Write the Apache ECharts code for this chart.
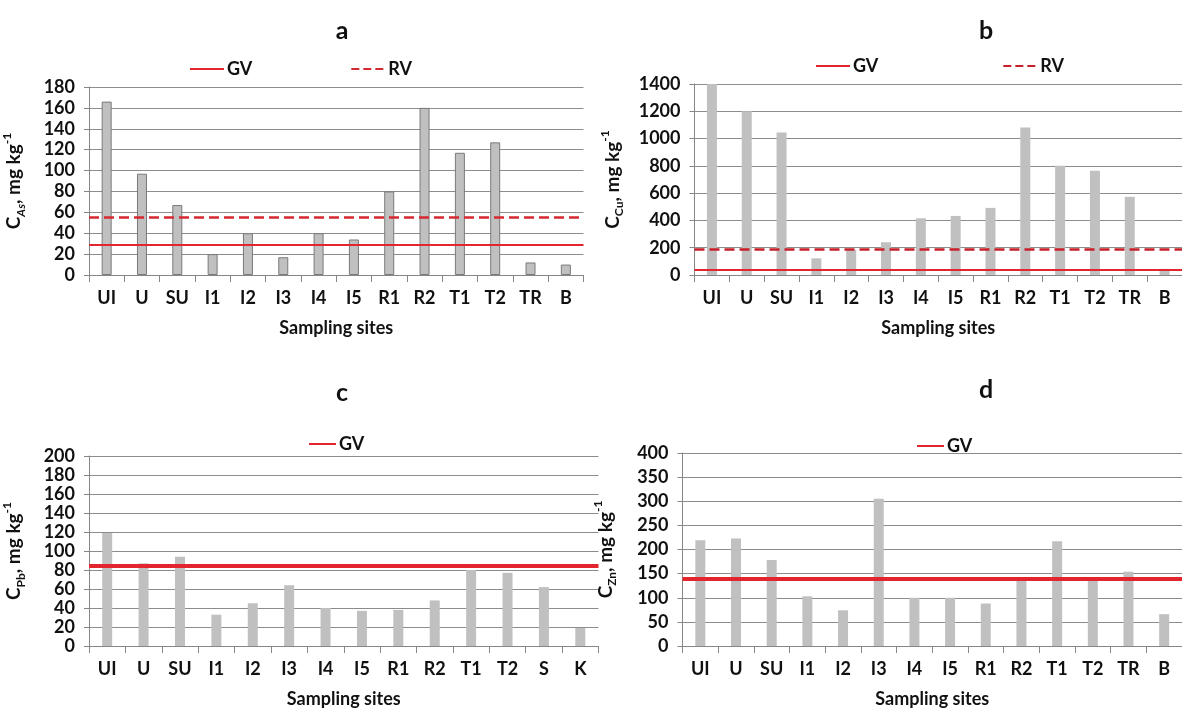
<!DOCTYPE html>
<html><head><meta charset="utf-8">
<script src="https://cdn.jsdelivr.net/npm/echarts@6/dist/echarts.min.js"></script>
<style>html,body{margin:0;padding:0;background:#fff}#c{width:1182px;height:709px}</style>
</head><body><div id="c"></div>
<script>
const sitesA = ['UI','U','SU','I1','I2','I3','I4','I5','R1','R2','T1','T2','TR','B'];
const sitesB = ['UI','U','SU','I1','I2','I3','I4','I5','R1','R2','T1','T2','TR','B'];
const sitesC = ['UI','U','SU','I1','I2','I3','I4','I5','R1','R2','T1','T2','S','K'];
const sitesD = ['UI','U','SU','I1','I2','I3','I4','I5','R1','R2','T1','T2','TR','B'];
const asValues = [166,97,67,20,40,17,40,34,80,160,117,127,12,10];
const cuValues = [1400,1200,1045,122,184,240,416,433,492,1082,800,764,573,45];
const pbValues = [119,87,94,33,45,64,40,37,38,48,80,77,62,19];
const znValues = [219,223,178,103,74,305,100,100,88,140,217,140,154,66];
const gvAs = 29, rvAs = 55;
const gvCu = 37, rvCu = 190;
const gvPb = 85;
const gvZn = 140;

const FONT = 'Lato';
const RED = '#e3262e';
const gridLineColor = '#8c8c8c';

function xAxis(i, data){
  return {type:'category', gridIndex:i, data:data,
    axisLine:{lineStyle:{color:'#868686'}},
    axisTick:{show:true, length:7, lineStyle:{color:'#868686'}},
    axisLabel:{color:'#111', fontFamily:FONT, fontWeight:'bold', fontSize:18, margin:14},
    name:'Sampling sites', nameLocation:'middle', nameGap:44,
    nameTextStyle:{color:'#111', fontFamily:FONT, fontWeight:'bold', fontSize:18}};
}
function yAxis(i, max, interval, sub, gap, italic){
  return {type:'value', gridIndex:i, min:0, max:max, interval:interval,
    axisLine:{show:true, lineStyle:{color:'#868686'}},
    axisTick:{show:true, length:5, lineStyle:{color:'#868686'}},
    splitLine:{lineStyle:{color:gridLineColor, width:1}},
    axisLabel:{color:'#111', fontFamily:FONT, fontWeight:'bold', fontSize:18, margin:14,
      formatter: v => String(v)},
    name:'{c|C}{s|' + sub + '}{c|, mg kg}{p|-1}', nameLocation:'middle', nameGap:gap,
    nameTextStyle:{color:'#111', fontFamily:FONT, rich:{
      c:{fontSize:19, fontWeight:'bold', fontFamily:FONT, color:'#111', lineHeight:26},
      s:{fontSize:12, fontWeight:'bold', fontStyle: italic?'italic':'normal', fontFamily:FONT, color:'#111', verticalAlign:'bottom', lineHeight:26},
      p:{fontSize:12, fontWeight:'bold', fontFamily:FONT, color:'#111', verticalAlign:'top', lineHeight:26}
    }}};
}
function bars(i, data, border){
  return {type:'bar', xAxisIndex:i, yAxisIndex:i, data:data, barWidth:10, silent:true,
    itemStyle:{color:'#c0c0c0', borderColor: border ? '#7a7a7a' : '#c0c0c0', borderWidth: border ? 1 : 0}};
}
function refLine(i, name, value, type, width, color){
  return {type:'line', name:name, xAxisIndex:i, yAxisIndex:i, data:[], symbol:'none',
    color:color, lineStyle:{color:color, type:type, width:width},
    markLine:{silent:true, symbol:'none', label:{show:false},
      lineStyle:{color:color, type:type, width:width}, data:[{yAxis:value}]}};
}
function legend(left, top, names, gap, w){
  return {left:left, top:top, data:names, itemGap:gap, itemWidth:w, itemHeight:14,
    selectedMode:false, formatter: n => n.split('_')[0],
    itemStyle:{opacity:0},
    textStyle:{color:'#111', fontFamily:FONT, fontWeight:'bold', fontSize:18, padding:[0,0,0,-2]}};
}
function title(x, y, t){
  return {text:t, left:x, top:y, textAlign:'center',
    textStyle:{fontFamily:FONT, fontWeight:'bold', fontSize:25, color:'#111'}};
}

const chart = echarts.init(document.getElementById('c'));
chart.setOption({
  animation:false,
  backgroundColor:'#fff',
  title:[title(337,13,'a'), title(981,13,'b'), title(337,375,'c'), title(981,372,'d')],
  legend:[
    legend(184, 55, ['GV_a','RV_a'], 98, 34),
    legend(810, 52, ['GV_b','RV_b'], 124, 34),
    legend(303, 430, ['GV_c'], 10, 27),
    legend(911, 432, ['GV_d'], 10, 27)
  ],
  grid:[
    {left:83.5, top:87, width:500, height:188},
    {left:694.5, top:84, width:496, height:191},
    {left:80.5, top:456, width:518, height:194},
    {left:682.5, top:453, width:507, height:197}
  ],
  xAxis:[xAxis(0,sitesA), xAxis(1,sitesB), xAxis(2,sitesC), xAxis(3,sitesD)],
  yAxis:[yAxis(0,180,20,'As',62,true), yAxis(1,1400,200,'Cu',69,false), yAxis(2,200,20,'Pb',62,false), yAxis(3,400,50,'Zn',64,false)],
  series:[
    bars(0, asValues, true),
    bars(1, cuValues, false),
    bars(2, pbValues, false),
    bars(3, znValues, false),
    refLine(0,'GV_a',gvAs,'solid',2,RED),
    refLine(0,'RV_a',rvAs,'dashed',2.5,'#d42a30'),
    refLine(1,'GV_b',gvCu,'solid',2,RED),
    refLine(1,'RV_b',rvCu,'dashed',2.5,'#c8202a'),
    refLine(2,'GV_c',gvPb,'solid',4,RED),
    refLine(3,'GV_d',gvZn,'solid',4,RED)
  ]
});
</script></body></html>
